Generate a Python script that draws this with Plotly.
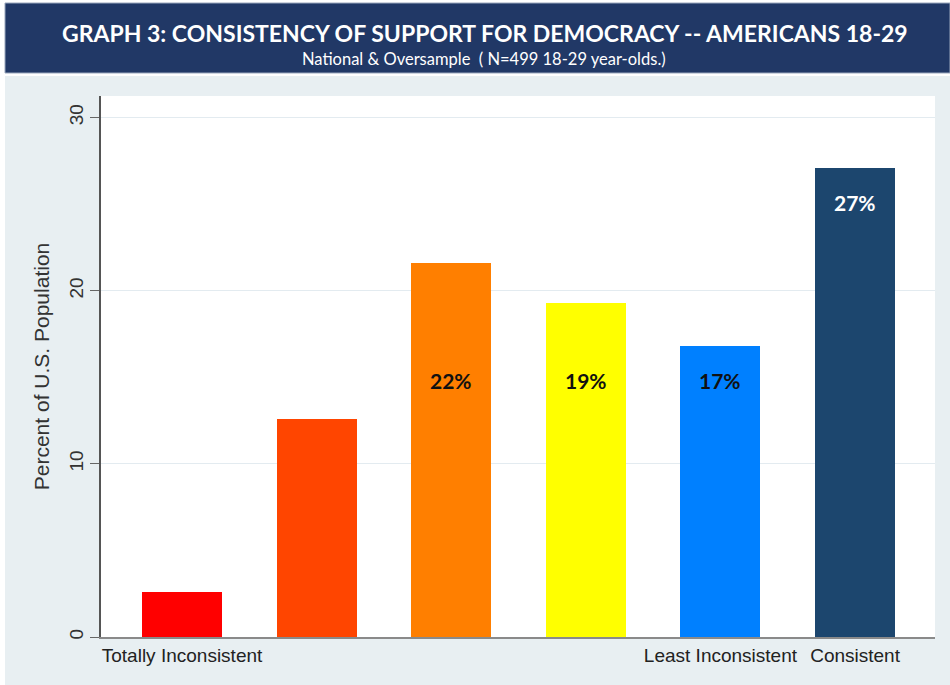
import plotly.graph_objects as go

# Consistency of support for democracy, Americans aged 18-29 (percent)
categories = ["Totally Inconsistent", "Level 2", "Level 3", "Level 4",
              "Least Inconsistent", "Consistent"]
percents = [2.6, 12.6, 21.6, 19.3, 16.8, 27.1]
labelled_ticks = {0: "Totally Inconsistent", 4: "Least Inconsistent", 5: "Consistent"}

title_text = "GRAPH 3: CONSISTENCY OF SUPPORT FOR DEMOCRACY -- AMERICANS 18-29"
subtitle_text = "National &amp; Oversample  ( N=499 18-29 year-olds.)"

bar_colors = ["#FF0000", "#FF4500", "#FF7F00", "#FFFF00", "#0080FF", "#1C466E"]

W, H = 950, 685
ML, MR, MT, MB = 101, 15, 96, 48
PW, PH = W - ML - MR, H - MT - MB


def px_x(x):
    return (x - ML) / PW


def px_y(y):
    return (H - MB - y) / PH


xs = list(range(len(categories)))

fig = go.Figure(go.Bar(
    x=xs, y=percents, width=0.594,
    marker=dict(color=bar_colors, line=dict(width=0)),
    hoverinfo="skip",
))

# value labels inside the four largest bars
label_font = "Lato, Open Sans, Liberation Sans, Arial"
annotations = []
for i, v in enumerate(percents):
    if i < 2:
        continue
    is_last = i == len(percents) - 1
    annotations.append(dict(
        x=i, y=25.1 if is_last else 14.8, xref="x", yref="y",
        text=f"<b>{round(v)}%</b>", showarrow=False,
        font=dict(family=label_font, size=21,
                  color="#FFFFFF" if is_last else "#111111"),
    ))

# header banner text
annotations.append(dict(
    x=px_x(485), y=px_y(33), xref="paper", yref="paper",
    text=f"<b>{title_text}</b>", showarrow=False,
    font=dict(family=label_font, size=23, color="#FFFFFF"),
    xanchor="center", yanchor="middle",
))
annotations.append(dict(
    x=px_x(484), y=px_y(59), xref="paper", yref="paper",
    text=subtitle_text, showarrow=False,
    font=dict(family=label_font, size=16.5, color="#FFFFFF"),
    xanchor="center", yanchor="middle",
))

shapes = [
    # light panel behind the chart
    dict(type="rect", xref="paper", yref="paper", layer="below",
         x0=px_x(5), x1=px_x(950), y0=px_y(685), y1=px_y(76),
         fillcolor="#E8EFF2", line=dict(width=0)),
    # navy header banner
    dict(type="rect", xref="paper", yref="paper", layer="above",
         x0=px_x(5), x1=px_x(950), y0=px_y(73), y1=px_y(3),
         fillcolor="#213866", line=dict(color="#9AA7BD", width=1)),
    # white plotting region
    dict(type="rect", xref="paper", yref="paper", layer="below",
         x0=0, x1=1, y0=0, y1=1,
         fillcolor="#FFFFFF", line=dict(width=0)),
]

fig.update_layout(
    width=W, height=H,
    margin=dict(l=ML, r=MR, t=MT, b=MB, pad=0),
    paper_bgcolor="#FFFFFF",
    plot_bgcolor="rgba(0,0,0,0)",
    showlegend=False,
    bargap=0,
    shapes=shapes,
    annotations=annotations,
    font=dict(family="Liberation Sans, Arial, sans-serif", color="#333333"),
)

fig.update_xaxes(
    range=[-0.602, 5.594],
    tickmode="array",
    tickvals=list(labelled_ticks.keys()),
    ticktext=list(labelled_ticks.values()),
    ticks="", showgrid=False, zeroline=False,
    showline=True, linecolor="#8A8A8A", linewidth=2,
    tickfont=dict(size=19, color="#222222"),
    fixedrange=True,
)

fig.update_yaxes(
    range=[0, 31.25],
    tickmode="array", tickvals=[0, 10, 20, 30],
    tickangle=-90,
    ticks="outside", ticklen=9, tickcolor="#666666", tickwidth=1,
    showline=True, linecolor="#555555", linewidth=1.5,
    showgrid=True, gridcolor="#E3EBF0", gridwidth=1,
    zeroline=False,
    tickfont=dict(size=19, color="#333333"),
    title=dict(text="Percent of U.S. Population", standoff=10,
               font=dict(size=21, color="#333333")),
    automargin=False,
    fixedrange=True,
)

fig.write_html("out.html")
